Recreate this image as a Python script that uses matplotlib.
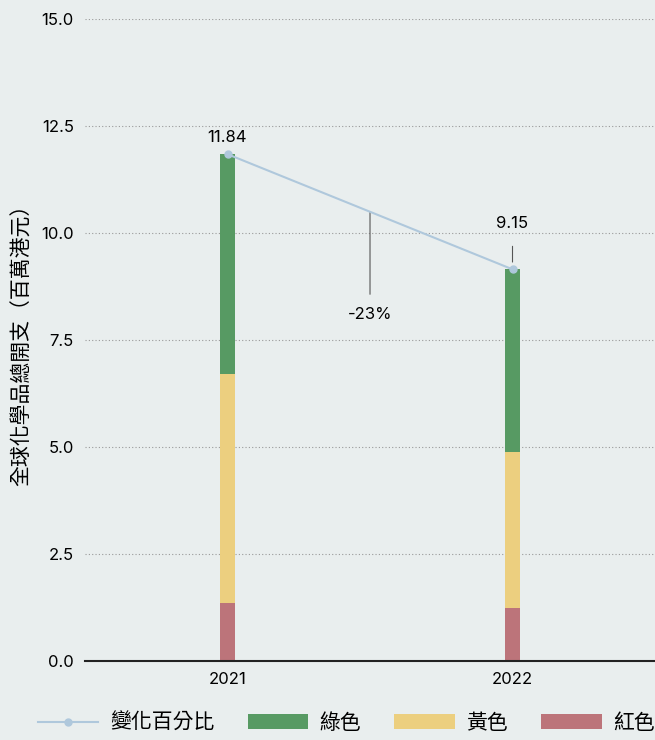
import matplotlib.pyplot as plt
import numpy as np

plt.rcParams['font.family'] = ['Noto Sans CJK TC', 'DejaVu Sans']
num_font = ['Inter', 'Noto Sans CJK TC']

years = ['2021', '2022']
red = [1.36, 1.23]
yellow = [5.34, 3.65]
green = [5.14, 4.27]
totals = [11.84, 9.15]
change_label = '-23%'

bg = '#e9eeee'
c_green = '#579a63'
c_yellow = '#eccf7f'
c_red = '#bc747a'
c_line = '#afc8dc'

fig = plt.figure(figsize=(6.55, 7.4), dpi=100)
fig.patch.set_facecolor(bg)
ax = fig.add_axes([0.1298, 0.1068, 0.8702, 0.8676])
ax.set_facecolor(bg)

x = np.arange(len(years))
w = 0.05
b_red = ax.bar(x, red, w, color=c_red, zorder=3)
b_yel = ax.bar(x, yellow, w, bottom=red, color=c_yellow, zorder=3)
bottom2 = np.array(red) + np.array(yellow)
b_grn = ax.bar(x, green, w, bottom=bottom2, color=c_green, zorder=3)
ln, = ax.plot(x, totals, color=c_line, lw=1.5, marker='o', ms=5, zorder=4)

# value labels
ax.text(x[0], totals[0] + 0.4, f'{totals[0]:.2f}', ha='center', va='center',
        fontsize=12, family=num_font)
ax.annotate(f'{totals[1]:.2f}', xy=(x[1], totals[1] + 0.17), xytext=(x[1], 10.22),
            ha='center', va='center', fontsize=12, family=num_font,
            arrowprops=dict(arrowstyle='-', color='#555555', lw=0.8, shrinkA=9, shrinkB=0))
mid = (totals[0] + totals[1]) / 2
ax.annotate(change_label, xy=(0.5, mid), xytext=(0.5, 8.1),
            ha='center', va='center', fontsize=12, family=num_font,
            arrowprops=dict(arrowstyle='-', color='#555555', lw=0.8, shrinkA=7, shrinkB=0))

ax.set_xlim(-0.5, 1.5)
ax.set_ylim(0, 15)
yt = np.arange(0, 15.1, 2.5)
ax.set_yticks(yt)
ax.set_yticklabels([f'{v:.1f}' for v in yt], fontsize=12, family=num_font)
ax.set_xticks(x)
ax.set_xticklabels(years, fontsize=12, family=num_font)
ax.tick_params(length=0, pad=8)
ax.grid(axis='y', linestyle=(0, (1, 2)), color='#999999', lw=0.8, zorder=0)
for s in ['top', 'right', 'left']:
    ax.spines[s].set_visible(False)
ax.spines['bottom'].set_color('#222222')
ax.spines['bottom'].set_linewidth(1.5)
ax.spines['bottom'].set_zorder(5)
ax.set_ylabel('全球化學品總開支（百萬港元）', fontsize=15, labelpad=6)

fig.legend([ln, b_grn, b_yel, b_red], ['變化百分比', '綠色', '黃色', '紅色'],
           loc='center', bbox_to_anchor=(0.529, 0.023), ncol=4, frameon=False,
           fontsize=15, handlelength=2.9, handleheight=0.7, columnspacing=1.6,
           handletextpad=0.55, borderpad=0.2)

fig.savefig('out.png', dpi=100, facecolor=bg)
